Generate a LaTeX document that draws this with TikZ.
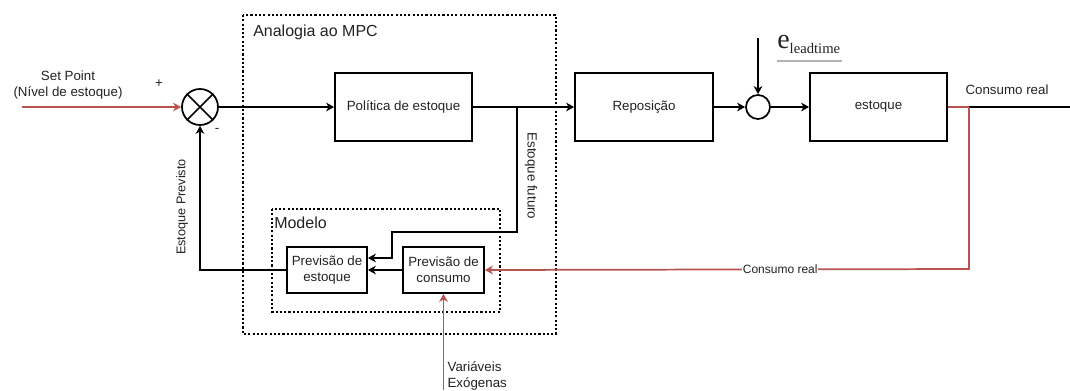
\documentclass[tikz,border=0pt]{standalone}
\usepackage{fontspec}
\setmainfont{Liberation Sans}
\newfontfamily\serifface{Liberation Serif}
\usetikzlibrary{arrows.meta,calc}
\definecolor{fbred}{HTML}{B85450}
\definecolor{txt}{HTML}{222222}
\tikzset{
  blk/.style={draw=black,line width=1.3pt,minimum width=102.75pt,minimum height=51pt,inner sep=0pt,font=\fontsize{10}{12}\selectfont,text=txt},
  small/.style={draw=black,line width=1.3pt,minimum width=60pt,minimum height=34.5pt,inner sep=0pt,align=center,font=\fontsize{10}{12}\selectfont,text=txt},
  wire/.style={line width=1.3pt,-{Stealth[length=6pt,width=6.5pt,inset=1.8pt]}},
  plain/.style={line width=1.3pt},
  redwire/.style={wire,draw=fbred},
  dotbox/.style={draw=black,line width=1.3pt,dash pattern=on 1.6pt off 1.6pt},
  lbl/.style={font=\fontsize{10}{12}\selectfont,text=txt,inner sep=1pt},
}
\begin{document}
\begin{tikzpicture}[x=0.75pt,y=-0.75pt]
\useasboundingbox (0,0) rectangle (1070,390);

% dotted frames
\draw[dotbox] (243,15) rectangle (556,334);
\node[font=\fontsize{12}{14}\selectfont,text=txt,anchor=west,inner sep=0pt] (mpc) at (253,32) {Analogia ao MPC};
\draw[dotbox] (272,209) rectangle (500,312);
\node[font=\fontsize{12}{14}\selectfont,text=txt,anchor=west,inner sep=0pt] (modelo) at (274,223) {Modelo};

% blocks
\node[draw=black,line width=1.3pt,circle,minimum size=27pt,inner sep=0pt] (sum) at (200,107) {};
\draw[line width=1.3pt] (sum.north east) -- (sum.south west) (sum.north west) -- (sum.south east);
\node[blk] (pol) at (403.5,107) {Política de estoque};
\node[blk,minimum width=103.5pt] (rep) at (644,107) {Reposição};
\node[draw=black,line width=1.3pt,circle,minimum size=18pt,inner sep=0pt] (nsum) at (758,107) {};
\node[blk] (est) at (878.5,107) {estoque};
\node[small] (prevest) at (327,270) {Previsão de\\estoque};
\node[small,minimum width=60.75pt] (prevcons) at (443.5,270) {Previsão de\\consumo};

% free ends and bends
\coordinate (spin) at (22,107);
\coordinate (br) at (517,107);
\coordinate (bf1) at (517,232);
\coordinate (bf2) at (392,232);
\coordinate (etop) at (758,38);
\coordinate (cr) at (969,107);
\coordinate (out) at (1070,107);
\coordinate (crd) at (969,269);
\coordinate (exo) at (443.5,390);

% signal paths
\draw[redwire] (spin) -- (sum.west);
\draw[wire] (sum.east) -- (pol.west);
\draw[wire] (pol.east) -- (rep.west);
\draw[wire] (br) -- (bf1) -- (bf2) |- ($(prevest.east)+(0,-12)$);
\draw[wire] (rep.east) -- (nsum.west);
\draw[wire] (etop) -- (nsum.north);
\draw[wire] (nsum.east) -- (est.west);
\draw[plain,fbred] (est.east) -- (cr);
\draw[plain] (cr) -- (out);
\draw[redwire] (cr) -- (crd) -- (prevcons.east)
  node[pos=0.39,fill=white,inner sep=0.5pt,font=\fontsize{9}{11}\selectfont,text=txt] (crl) {Consumo real};
\draw[wire] (prevcons.west) -- (prevest.east);
\draw[wire] (prevest.west) -| (sum.south);
\draw[redwire] (exo) -- (prevcons.south);

% labels
\node[lbl,align=center] (sp) at (68,85) {Set Point\\(Nível de estoque)};
\node[lbl] (plus) at (159,84) {+};
\node[lbl] (minus) at (217,130) {-};
\node[lbl,rotate=-90] (fut) at (531,176) {Estoque futuro};
\node[lbl,rotate=90,font=\fontsize{9.5}{11}\selectfont] (prev) at (182,207) {Estoque Previsto};
\node[lbl] (crtop) at (1007,90) {Consumo real};
\node[lbl,align=left,anchor=north west] (vex) at (446,360) {Variáveis\\Exógenas};
\node[inner sep=0pt,text=txt,anchor=base west] (elt) at (777,48)
  {\serifface\fontsize{21}{21}\selectfont e\raisebox{-3.8pt}{\fontsize{11}{11}\selectfont leadtime}};
\draw[gray!60,line width=0.8pt] (777,61) -- (842,61);
\end{tikzpicture}
\end{document}
